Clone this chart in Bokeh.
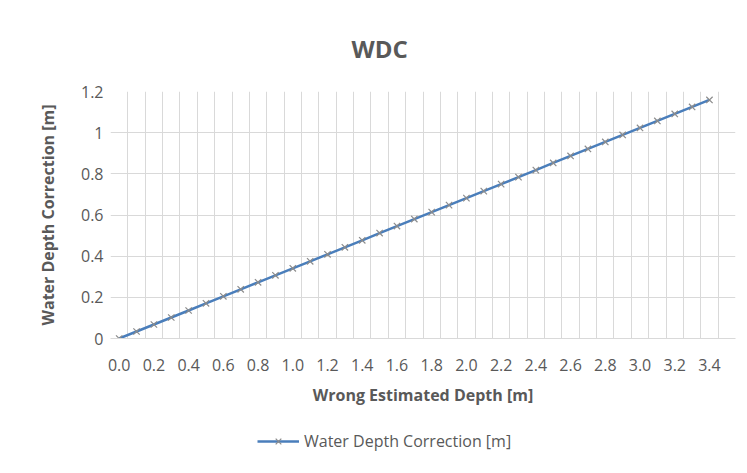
from bokeh.plotting import figure
from bokeh.layouts import column
from bokeh.models import FixedTicker, Legend, LegendItem, Range1d
from bokeh.embed import file_html
from bokeh.resources import INLINE

# ---- data ----
depth_labels = ["0.0", "0.1", "0.2", "0.3", "0.4", "0.5", "0.6", "0.7", "0.8", "0.9",
                "1.0", "1.1", "1.2", "1.3", "1.4", "1.5", "1.6", "1.7", "1.8", "1.9",
                "2.0", "2.1", "2.2", "2.3", "2.4", "2.5", "2.6", "2.7", "2.8", "2.9",
                "3.0", "3.1", "3.2", "3.3", "3.4"]
correction = [0.000, 0.034, 0.068, 0.102, 0.136, 0.171, 0.205, 0.239, 0.273, 0.307,
              0.341, 0.375, 0.409, 0.443, 0.477, 0.512, 0.546, 0.580, 0.614, 0.648,
              0.682, 0.716, 0.750, 0.784, 0.818, 0.853, 0.887, 0.921, 0.955, 0.989,
              1.023, 1.057, 1.091, 1.125, 1.159]
n_slots = 36  # category slots on the axis (one empty slot after the last value)
y_ticks = [0, 0.2, 0.4, 0.6, 0.8, 1, 1.2]
y_tick_labels = ["0", "0.2", "0.4", "0.6", "0.8", "1", "1.2"]
series_name = "Water Depth Correction [m]"

FONT = "Open Sans"
TXT = "#595959"
GRID = "#d9d9d9"
LINE_COLOR = "#4a7ebb"
MARK_COLOR = "#8c8c8c"

x_idx = list(range(len(depth_labels)))

p = figure(width=747, height=420, output_backend="svg", toolbar_location=None,
           x_range=Range1d(-0.5, n_slots - 0.5), y_range=Range1d(y_ticks[0], y_ticks[-1]),
           min_border_left=110, min_border_right=12, min_border_top=91, min_border_bottom=82)
p.outline_line_color = None
p.background_fill_color = "white"
p.border_fill_color = "white"

# title
p.title.text = "WDC"
p.title.align = "left"
p.title.offset = 241
p.title.standoff = 53
p.title.text_font = FONT
p.title.text_font_size = "24px"
p.title.text_font_style = "bold"
p.title.text_color = TXT

# grids
p.xgrid.ticker = FixedTicker(ticks=[i - 0.5 for i in range(n_slots + 1)])
p.ygrid.ticker = FixedTicker(ticks=y_ticks)
for g in (p.xgrid, p.ygrid):
    g.grid_line_color = GRID
    g.grid_line_width = 1

# x axis
xa = p.xaxis[0]
xa.ticker = FixedTicker(ticks=[i for i in x_idx if i % 2 == 0])
xa.major_label_overrides = {i: depth_labels[i] for i in x_idx if i % 2 == 0}
xa.axis_line_color = GRID
xa.major_tick_line_color = None
xa.minor_tick_line_color = None
xa.major_tick_out = 0
xa.major_label_standoff = 20
xa.major_label_text_font = FONT
xa.major_label_text_font_size = "16px"
xa.major_label_text_color = TXT
xa.axis_label = "Wrong Estimated Depth [m]"
xa.axis_label_text_font = FONT
xa.axis_label_text_font_size = "16px"
xa.axis_label_text_font_style = "bold"
xa.axis_label_text_color = TXT
xa.axis_label_standoff = 10

# y axis
ya = p.yaxis[0]
ya.ticker = FixedTicker(ticks=y_ticks)
ya.major_label_overrides = {t: l for t, l in zip(y_ticks, y_tick_labels)}
ya.axis_line_color = None
ya.major_tick_line_color = None
ya.minor_tick_line_color = None
ya.major_tick_out = 0
ya.major_label_standoff = 7
ya.major_label_text_font = FONT
ya.major_label_text_font_size = "16px"
ya.major_label_text_color = TXT
ya.axis_label = "Water Depth Correction [m]"
ya.axis_label_text_font = FONT
ya.axis_label_text_font_size = "16px"
ya.axis_label_text_font_style = "bold"
ya.axis_label_text_color = TXT
ya.axis_label_standoff = 19

# series
ln = p.line(x_idx, correction, line_color=LINE_COLOR, line_width=2.5)
sc = p.scatter(x_idx, correction, marker="x", size=9, line_color=MARK_COLOR, line_width=1.2)

# legend strip below the chart (separate canvas so the legend is not clipped);
# the series is re-drawn there outside its visible range, so only the legend shows
p2 = figure(width=747, height=53, output_backend="svg", toolbar_location=None,
            x_range=Range1d(-0.5, n_slots - 0.5), y_range=Range1d(5, 6), min_border=0)
p2.axis.visible = False
p2.grid.visible = False
p2.outline_line_color = None
p2.background_fill_color = "white"
p2.border_fill_color = "white"
lln = p2.line(x_idx, correction, line_color=LINE_COLOR, line_width=2.5)
lsc = p2.scatter(x_idx, correction, marker="x", size=9, line_color=MARK_COLOR, line_width=1.2)
legend = Legend(items=[LegendItem(label=series_name, renderers=[lln, lsc])],
                location=(147, 21), orientation="horizontal",
                border_line_color=None, background_fill_alpha=0,
                padding=4, margin=0, glyph_width=42, label_standoff=5,
                label_text_font=FONT, label_text_font_size="16px", label_text_color=TXT)
p2.add_layout(legend, "center")

open("out.html", "w").write(file_html(column(p, p2, spacing=0), INLINE))
